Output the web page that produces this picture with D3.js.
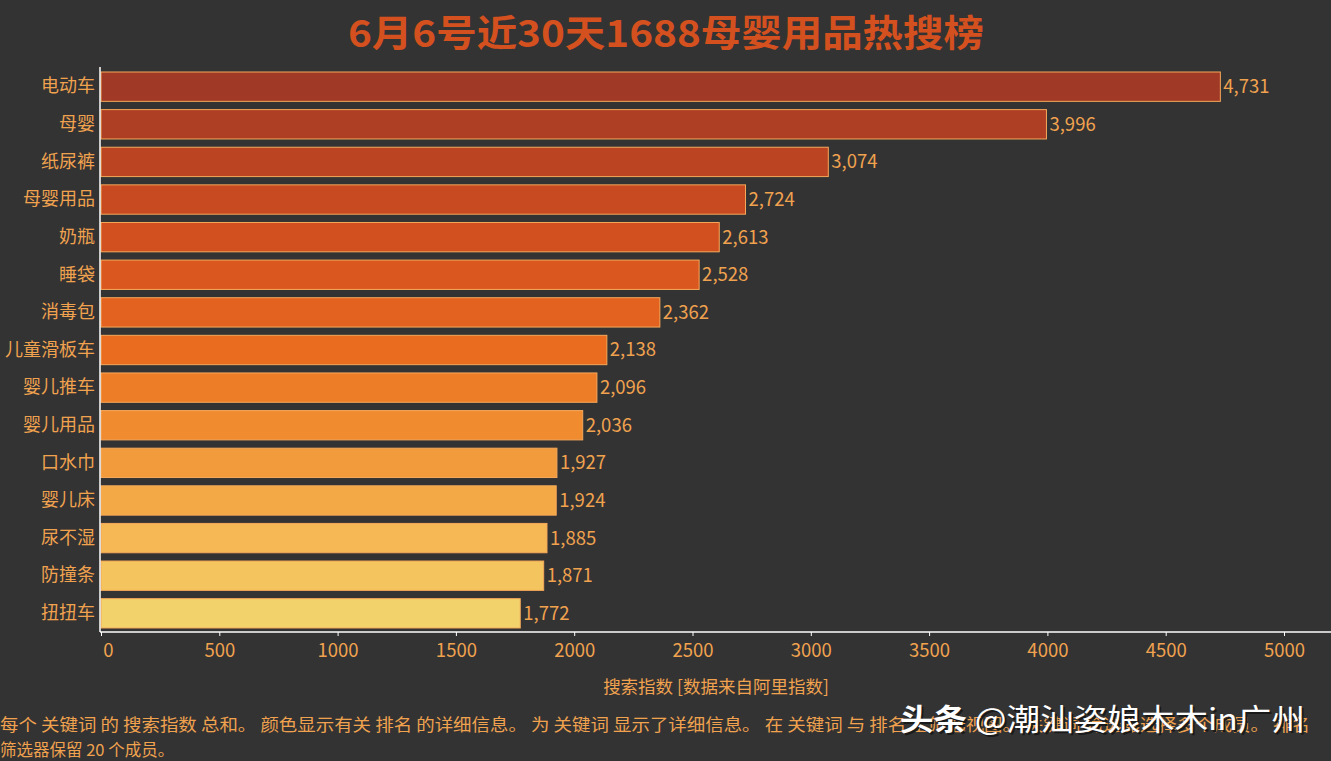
<!DOCTYPE html>
<html><head><meta charset="utf-8">
<script src="https://cdn.jsdelivr.net/npm/d3@7"></script>
<style>
html,body{margin:0;padding:0;background:#333333;}
svg{display:block;}
text{font-family:"Noto Sans CJK SC","Noto Sans",sans-serif;}
</style></head>
<body>
<svg id="c" width="1331" height="761"></svg>
<script>
const categories = ["电动车","母婴","纸尿裤","母婴用品","奶瓶","睡袋","消毒包","儿童滑板车","婴儿推车","婴儿用品","口水巾","婴儿床","尿不湿","防撞条","扭扭车"];
const values = [4731,3996,3074,2724,2613,2528,2362,2138,2096,2036,1927,1924,1885,1871,1772];
const barColors = ["#a03a27","#ae3f24","#bb4422","#c84a21","#d24f20","#db5720","#e4621f","#ea6c1e","#ee7d27","#f08b30","#f29b3c","#f4a947","#f5b855","#f4c55f","#f2d36b"];
const xTicks = [0,500,1000,1500,2000,2500,3000,3500,4000,4500,5000];
const title = "6月6号近30天1688母婴用品热搜榜";
const xTitle = "搜索指数 [数据来自阿里指数]";
const note1 = "每个 关键词 的 搜索指数 总和。  颜色显示有关 排名 的详细信息。  为 关键词 显示了详细信息。 在 关键词 与 排名 上筛选视图。 关键词 筛选器选择多个成员。 排名";
const note2 = "筛选器保留 20 个成员。";

(function(){
const svg = d3.select("#c");
const orange = "#f0a24f";
const pL = 101, pR = 1284, pT = 72, pB = 628, axisY = 632;

const x = d3.scaleLinear().domain([0,5000]).range([pL,pR]);
const y = d3.scaleBand().domain(categories).range([pT,pB]).paddingInner(0.22).paddingOuter(0.0);

svg.append("text").attr("x",666).attr("y",47).attr("text-anchor","middle")
  .attr("fill","#d4501f").attr("font-size",37).attr("font-weight","bold")
  .attr("textLength",636).attr("lengthAdjust","spacingAndGlyphs").text(title);

svg.selectAll("rect.bar").data(values).enter().append("rect")
  .attr("class","bar")
  .attr("x",x(0)).attr("y",(d,i)=>y(categories[i]))
  .attr("width",d=>x(d)-x(0)).attr("height",y.bandwidth())
  .attr("fill",(d,i)=>barColors[i]).attr("stroke","#f6a85a").attr("stroke-width",1);

svg.selectAll("text.val").data(values).enter().append("text")
  .attr("class","val")
  .attr("x",d=>x(d)+3).attr("y",(d,i)=>y(categories[i])+y.bandwidth()/2)
  .attr("dy","0.35em").attr("fill",orange).attr("font-size",18.5)
  .text(d=>d3.format(",")(d));

const ya = svg.append("g").attr("transform",`translate(${pL-1},0)`)
  .call(d3.axisLeft(y).tickSize(0).tickPadding(5));
ya.select(".domain").remove();
ya.append("line").attr("x1",0).attr("x2",0).attr("y1",pT-5).attr("y2",axisY).attr("stroke","#ffffff").attr("stroke-width",1.5);
ya.selectAll("text").attr("fill",orange).attr("font-size",18).attr("font-family","\"Noto Sans CJK SC\",sans-serif");

const xa = svg.append("g").attr("transform",`translate(0,${axisY})`)
  .call(d3.axisBottom(x).tickValues(xTicks).tickFormat(d3.format("d")).tickSize(4).tickPadding(8));
xa.select(".domain").remove();
xa.append("line").attr("x1",pL-1).attr("x2",1331).attr("y1",0).attr("y2",0).attr("stroke","#ffffff").attr("stroke-width",1.5);
xa.selectAll(".tick line").attr("stroke","#ffffff");
xa.selectAll("text").attr("fill",orange).attr("font-size",18.5).attr("font-family","\"Noto Sans CJK SC\",sans-serif");
xa.selectAll(".tick text").filter(d=>d===0).attr("dx",7);

svg.append("text").attr("x",716).attr("y",693).attr("text-anchor","middle")
  .attr("fill",orange).attr("font-size",17.5).text(xTitle);

svg.append("text").attr("x",0).attr("y",731).attr("fill",orange).attr("font-size",16.5)
  .attr("textLength",1310).attr("lengthAdjust","spacingAndGlyphs").text(note1);
svg.append("text").attr("x",0).attr("y",756).attr("fill",orange).attr("font-size",16.5).text(note2);

const wm = svg.append("g");
[["#1a1a1a",2,2],["#ffffff",0,0]].forEach(([c,dx,dy])=>{
  const t = wm.append("text").attr("x",900+dx).attr("y",730+dy).attr("fill",c).attr("font-size",30)
    .attr("textLength",405).attr("lengthAdjust","spacingAndGlyphs");
  t.append("tspan").attr("font-weight","bold").text("头条 ");
  t.append("tspan").text("@潮汕姿娘木木in广州");
});
})();
</script>
</body></html>
